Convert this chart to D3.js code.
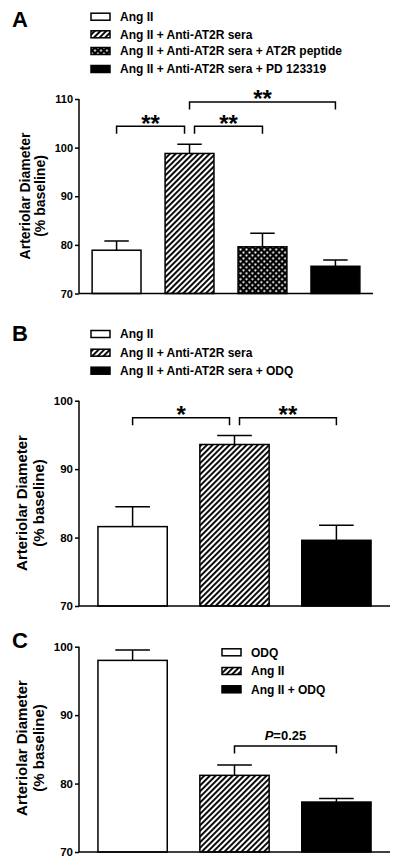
<!DOCTYPE html>
<html><head><meta charset="utf-8">
<script src="https://cdn.jsdelivr.net/npm/d3@7"></script>
<style>
html,body{margin:0;padding:0;background:#fff;}
svg{display:block;font-family:"Liberation Sans",Arial,sans-serif;font-weight:bold;}
</style></head>
<body>
<svg id="chart" width="400" height="866"></svg>
<script>
// ---- Data ----
const catsA = ["Ang II", "Ang II + Anti-AT2R sera", "Ang II + Anti-AT2R sera + AT2R peptide", "Ang II + Anti-AT2R sera + PD 123319"];
const meanA = [78.9, 98.8, 79.6, 75.6];
const semA  = [1.9, 1.9, 2.8, 1.3];
const fillA = ["white", "hatch", "cross", "black"];
const ticksA = [70, 80, 90, 100, 110];
const sigA = [ {from:0, to:1, y:104.4, label:"**"}, {from:1, to:2, y:104.4, label:"**"}, {from:1, to:3, y:109.4, label:"**"} ];

const catsB = ["Ang II", "Ang II + Anti-AT2R sera", "Ang II + Anti-AT2R sera + ODQ"];
const meanB = [81.6, 93.6, 79.6];
const semB  = [2.9, 1.3, 2.2];
const fillB = ["white", "hatch", "black"];
const ticksB = [70, 80, 90, 100];
const sigB = [ {from:0, to:1, y:97.5, label:"*"}, {from:1, to:2, y:97.5, label:"**"} ];

const catsC = ["ODQ", "Ang II", "Ang II + ODQ"];
const meanC = [98.0, 81.2, 77.3];
const semC  = [1.5, 1.5, 0.5];
const fillC = ["white", "hatch", "black"];
const ticksC = [70, 80, 90, 100];
const sigC = [ {from:1, to:2, y:85.5, label:"P=0.25"} ];

const yTitle1 = "Arteriolar Diameter";
const yTitle2 = "(% baseline)";

const svg = d3.select("#chart");
const defs = svg.append("defs");
// hatch pattern
const ph = defs.append("pattern").attr("id","hatch").attr("patternUnits","userSpaceOnUse")
  .attr("width",4).attr("height",4).attr("patternTransform","rotate(45)");
ph.append("rect").attr("width",4).attr("height",4).attr("fill","white");
ph.append("rect").attr("x",0).attr("y",0).attr("width",1.9).attr("height",4).attr("fill","black");
// cross pattern
const pc = defs.append("pattern").attr("id","cross").attr("patternUnits","userSpaceOnUse")
  .attr("width",4.2).attr("height",4.2).attr("patternTransform","rotate(45)");
pc.append("rect").attr("width",4.2).attr("height",4.2).attr("fill","black");
pc.append("rect").attr("x",1.2).attr("y",1.2).attr("width",1.9).attr("height",1.9).attr("fill","white");

function fillOf(f){ return f==="white"?"white":f==="black"?"black":`url(#${f})`; }

function panel(o){
  const g = svg.append("g");
  const x = d3.scaleBand().domain(d3.range(o.means.length)).range([o.x0, o.x1])
    .paddingInner(o.pi).paddingOuter(o.po);
  const y = d3.scaleLinear().domain([70, o.ymax]).range([o.yb, o.yt]);

  // y axis
  const ax = g.append("g").attr("transform",`translate(${o.x0},0)`)
    .call(d3.axisLeft(y).tickValues(o.ticks).tickSize(4).tickPadding(2).tickFormat(d3.format("d")));
  ax.select(".domain").attr("stroke","black").attr("stroke-width",1.5).attr("d",`M0,${y(o.ymax)}V${y(70)}`);
  ax.selectAll(".tick line").attr("stroke","black").attr("stroke-width",1.5);
  ax.selectAll(".tick text").attr("fill","black").attr("font-size",o.tickFs).attr("font-weight","bold")
    .attr("font-family","'Liberation Sans',Arial,sans-serif");

  // bars
  g.selectAll("rect.bar").data(o.means).join("rect")
    .attr("x",(d,i)=>x(i)).attr("width",x.bandwidth())
    .attr("y",d=>y(d)).attr("height",d=>y(70)-y(d))
    .attr("fill",(d,i)=>fillOf(o.fills[i])).attr("stroke","black").attr("stroke-width",1.5);

  // error bars
  o.means.forEach((m,i)=>{
    const cx = x(i)+x.bandwidth()/2, hw = x.bandwidth()/4;
    g.append("path").attr("d",`M${cx},${y(m)}V${y(m+o.sem[i])}M${cx-hw},${y(m+o.sem[i])}H${cx+hw}`)
      .attr("stroke","black").attr("stroke-width",1.5).attr("fill","none");
  });

  // x axis
  g.append("line").attr("x1",o.x0).attr("x2",o.x1).attr("y1",y(70)).attr("y2",y(70))
    .attr("stroke","black").attr("stroke-width",1.5);

  // significance brackets
  o.sig.forEach(s=>{
    let xa = x(s.from)+x.bandwidth()/2, xb = x(s.to)+x.bandwidth()/2;
    if (s.from===1 && s.to===2 && o.sig.length>1) xa += 5;
    if (o.sig.some(t=>t!==s && t.from===s.to && t.y===s.y)) xb -= 5;
    const yy = y(s.y);
    g.append("path").attr("d",`M${xa},${yy+7.5}V${yy}H${xb}V${yy+7.5}`)
      .attr("stroke","black").attr("stroke-width",1.5).attr("fill","none");
    if (s.label.startsWith("P")) {
      const t = g.append("text").attr("x",(xa+xb)/2).attr("y",yy-5.5).attr("text-anchor","middle")
        .attr("font-size",13);
      t.append("tspan").attr("font-style","italic").text("P");
      t.append("tspan").text(s.label.slice(1));
    } else {
      g.append("text").attr("x",(xa+xb)/2).attr("y",yy+5.5).attr("text-anchor","middle")
        .attr("font-size",24).text(s.label);
    }
  });

  // y title
  g.append("text").attr("transform",`translate(${o.tx1},${o.tcy}) rotate(-90)`).attr("text-anchor","middle")
    .attr("font-size",o.titleFs).text(yTitle1);
  g.append("text").attr("transform",`translate(${o.tx2},${o.tcy}) rotate(-90)`).attr("text-anchor","middle")
    .attr("font-size",o.titleFs).text(yTitle2);

  // panel letter
  g.append("text").attr("x",12).attr("y",o.letterY).attr("font-size",22).text(o.letter);

  // legend
  o.cats.forEach((c,i)=>{
    const yy = o.legY[i];
    g.append("rect").attr("x",o.legX).attr("y",yy-3.5).attr("width",19).attr("height",7)
      .attr("fill",fillOf(o.fills[i])).attr("stroke","black").attr("stroke-width",1.5);
    g.append("text").attr("x",o.legX+29).attr("y",yy+4.3).attr("font-size",12).text(c);
  });
}

panel({means:meanA, sem:semA, fills:fillA, ticks:ticksA, sig:sigA, cats:catsA, ymax:110,
  x0:79, x1:373, pi:0.33, po:0.18, yb:293.5, yt:99, tickFs:11, titleFs:14,
  tx1:30, tx2:45, tcy:196, letter:"A", letterY:27, legX:91, legY:[16.7,34.3,51,69]});
panel({means:meanB, sem:semB, fills:fillB, ticks:ticksB, sig:sigB, cats:catsB, ymax:100,
  x0:79, x1:390, pi:0.32, po:0.186, yb:606, yt:400.7, tickFs:11.5, titleFs:15,
  tx1:27, tx2:44, tcy:503, letter:"B", letterY:341, legX:91, legY:[334,352.7,370.7]});
panel({means:meanC, sem:semC, fills:fillC, ticks:ticksC, sig:sigC, cats:catsC, ymax:100,
  x0:79, x1:390, pi:0.32, po:0.186, yb:852, yt:646.7, tickFs:11.5, titleFs:15,
  tx1:27, tx2:44, tcy:748, letter:"C", letterY:648, legX:222, legY:[652.3,671,689.3]});
</script>
</body></html>
